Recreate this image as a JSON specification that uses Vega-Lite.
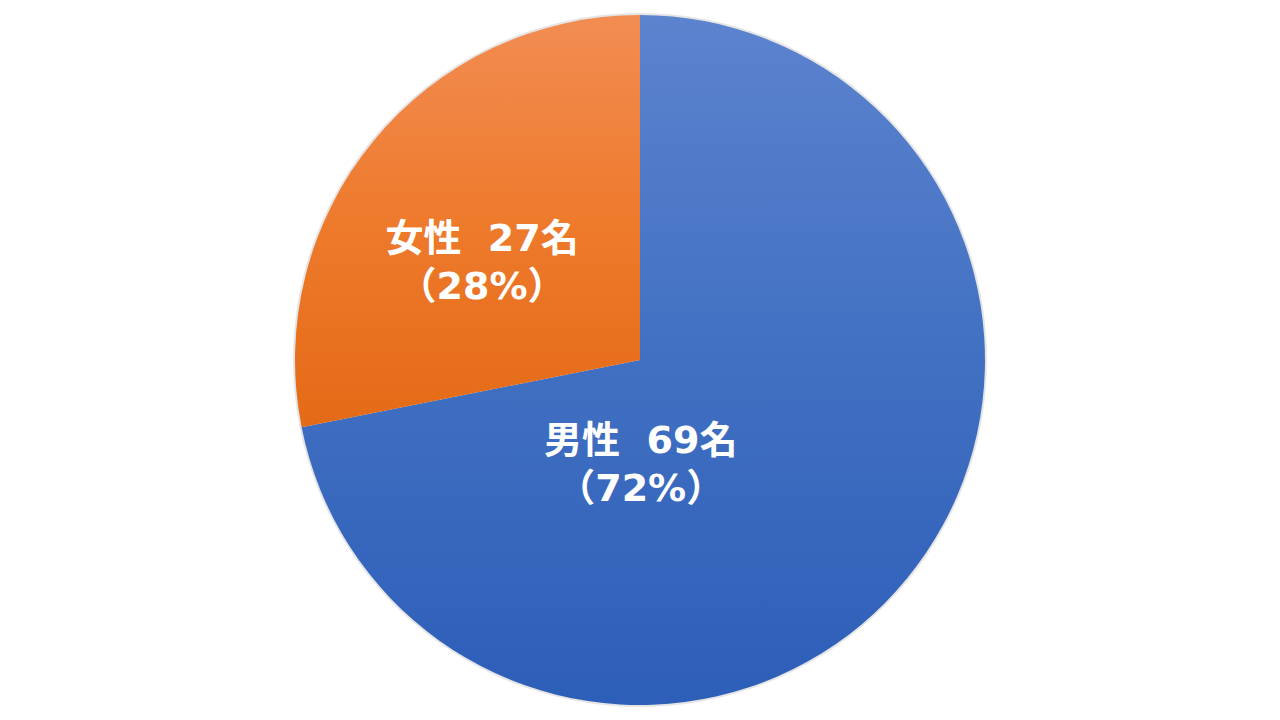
{
  "$schema": "https://vega.github.io/schema/vega-lite/v6.json",
  "width": 1280,
  "height": 720,
  "autosize": {"type": "fit", "contains": "padding"},
  "padding": 0,
  "background": "white",
  "view": {"stroke": null},
  "data": {
    "values": [
      {"gender": "男性", "count": 69, "label": "男性\u00a0\u00a069名\n（72%）"},
      {"gender": "女性", "count": 27, "label": "女性\u00a0\u00a027名\n（28%）"}
    ]
  },
  "encoding": {
    "theta": {"field": "count", "type": "quantitative", "stack": true},
    "order": {"field": "count", "type": "quantitative", "sort": "descending"}
  },
  "layer": [
    {
      "mark": {"type": "arc", "outerRadius": 347, "strokeWidth": 0, "fill": "#000000", "opacity": 0.1},
      "encoding": {}
    },
    {
      "mark": {"type": "arc", "outerRadius": 345, "strokeWidth": 0},
      "encoding": {
        "fill": {
          "condition": {
            "test": "datum.gender == '男性'",
            "value": {
              "gradient": "linear",
              "x1": 0, "y1": 0, "x2": 0, "y2": 1,
              "stops": [
                {"offset": 0, "color": "#5C83CE"},
                {"offset": 0.5, "color": "#4170C2"},
                {"offset": 1, "color": "#2D5EB8"}
              ]
            }
          },
          "value": {
            "gradient": "linear",
            "x1": 0, "y1": 0, "x2": 0, "y2": 1,
            "stops": [
              {"offset": 0, "color": "#F28D53"},
              {"offset": 0.5, "color": "#EE7A2C"},
              {"offset": 1, "color": "#E46A16"}
            ]
          }
        }
      }
    },
    {
      "mark": {
        "type": "text",
        "radius": 107,
        "dx": -82,
        "dy": 14,
        "lineBreak": "\n",
        "lineHeight": 48,
        "fontSize": 38,
        "fontWeight": "bold",
        "font": "DejaVu Sans, Noto Sans CJK JP",
        "fill": "white",
        "align": "center",
        "baseline": "middle"
      },
      "encoding": {
        "text": {"condition": {"test": "datum.gender == '男性'", "field": "label"}, "value": ""}
      }
    },
    {
      "mark": {
        "type": "text",
        "radius": 181,
        "dx": -18,
        "dy": -5,
        "lineBreak": "\n",
        "lineHeight": 48,
        "fontSize": 38,
        "fontWeight": "bold",
        "font": "DejaVu Sans, Noto Sans CJK JP",
        "fill": "white",
        "align": "center",
        "baseline": "middle"
      },
      "encoding": {
        "text": {"condition": {"test": "datum.gender == '女性'", "field": "label"}, "value": ""}
      }
    }
  ]
}
